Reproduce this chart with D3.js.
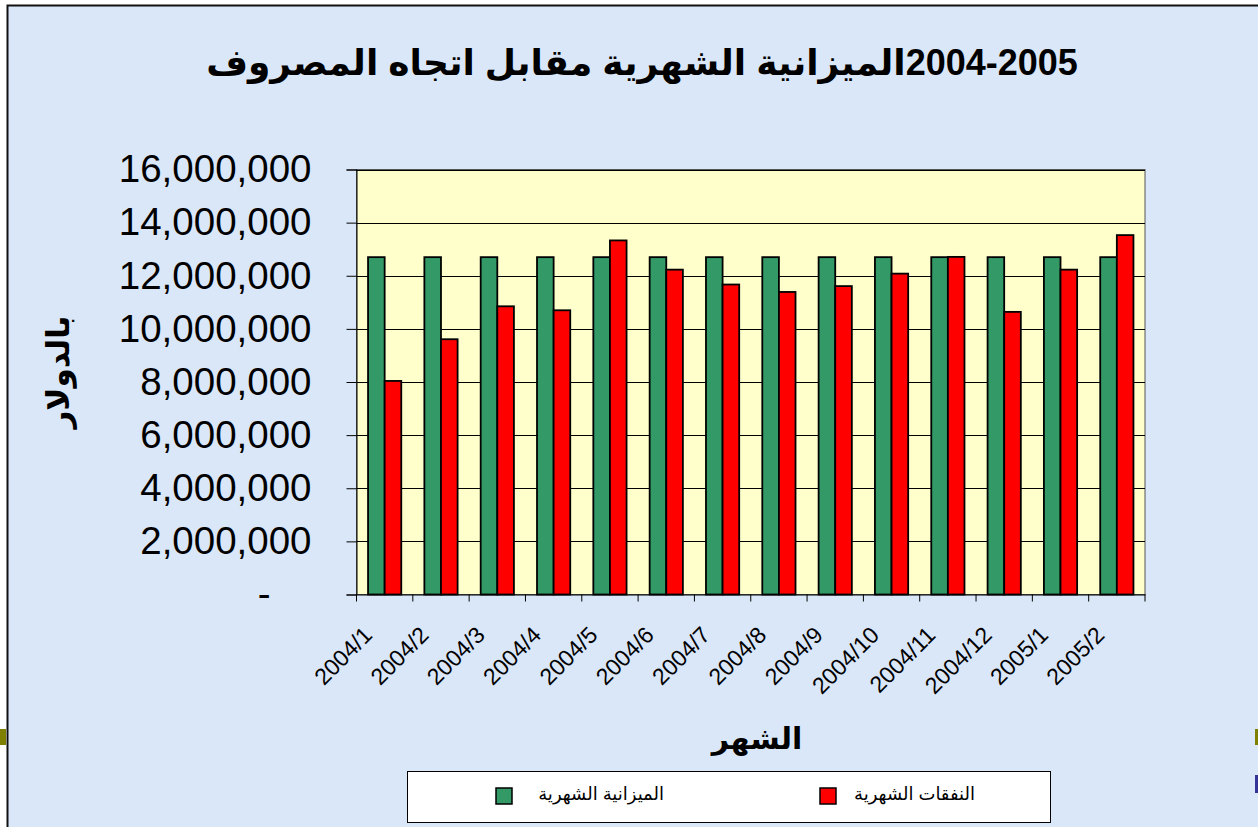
<!DOCTYPE html>
<html>
<head>
<meta charset="utf-8">
<script src="https://cdn.jsdelivr.net/npm/d3@7"></script>
<style>
    body { margin: 0; background: #ffffff; }
    text { font-family: "Liberation Sans", Arial, "DejaVu Sans", sans-serif; }
</style>
</head>
<body>
<div id="chart"></div>
<script>
// Data
var months          =   [ "2004/1", "2004/2", "2004/3", "2004/4", "2004/5", "2004/6", "2004/7",
                          "2004/8", "2004/9", "2004/10", "2004/11", "2004/12", "2005/1", "2005/2" ];
var budget          =   [ 12700000, 12700000, 12700000, 12700000, 12700000, 12700000, 12700000,
                          12700000, 12700000, 12700000, 12700000, 12700000, 12700000, 12700000 ];
var spending        =   [ 8040000, 9610000, 10850000, 10700000, 13330000, 12230000, 11670000,
                          11390000, 11610000, 12080000, 12710000, 10640000, 12230000, 13530000 ];
var y_ticks         =   [ 0, 2000000, 4000000, 6000000, 8000000, 10000000, 12000000, 14000000, 16000000 ];
var series_names    =   [ "الميزانية الشهرية", "النفقات الشهرية" ];
var series_colors   =   [ "#339966", "#ff0000" ];
var title_years     =   "2004-2005";
var title_text      =   "الميزانية الشهرية مقابل اتجاه المصروف";
var x_title         =   "الشهر";
var y_title         =   "بالدولار";

var chart_width     =   1258;
var chart_height    =   831;
var plot            =   { left: 356.5, right: 1145, top: 169.5, bottom: 594.5 };

// Scales
var x               =   d3.scaleBand()
        .domain( months )
        .range( [ plot.left, plot.right ] );

var x1              =   d3.scaleBand()
        .domain( [ 0, 1 ] )
        .range( [ x.bandwidth() * 0.205, x.bandwidth() * 0.795 ] );

var y               =   d3.scaleLinear()
        .domain( [ 0, 16000000 ] )
        .range( [ plot.bottom, plot.top ] );

// Create SVG
var svg             =   d3.select( "#chart" )
        .append( "svg" )
        .attr( "width", chart_width )
        .attr( "height", chart_height );

// Slide background
svg.append( "rect" )
    .attr( "x", 7 ).attr( "y", 5 )
    .attr( "width", chart_width - 7 ).attr( "height", 822 )
    .attr( "fill", "#dae7f8" );

svg.append( "path" )
    .attr( "d", "M7.5,827V5.5H" + chart_width )
    .attr( "fill", "none" )
    .attr( "stroke", "#111" )
    .attr( "stroke-width", 2 );

svg.append( "rect" ).attr( "x", 0 ).attr( "y", 729 ).attr( "width", 6 ).attr( "height", 16 ).attr( "fill", "#808000" );
svg.append( "rect" ).attr( "x", 1255 ).attr( "y", 729 ).attr( "width", 3 ).attr( "height", 16 ).attr( "fill", "#808000" );
svg.append( "rect" ).attr( "x", 1255 ).attr( "y", 775 ).attr( "width", 3 ).attr( "height", 18 ).attr( "fill", "#333399" );

// Plot area
svg.append( "rect" )
    .attr( "x", plot.left ).attr( "y", plot.top )
    .attr( "width", plot.right - plot.left ).attr( "height", plot.bottom - plot.top )
    .attr( "fill", "#ffffcc" )
    .attr( "stroke", "#555" )
    .attr( "stroke-width", 1 );

// Gridlines
svg.append( "g" )
    .selectAll( "line" )
    .data( y_ticks.slice( 1 ) )
    .enter()
    .append( "line" )
    .attr( "x1", plot.left ).attr( "x2", plot.right )
    .attr( "y1", d => Math.round( y(d) ) + 0.5 ).attr( "y2", d => Math.round( y(d) ) + 0.5 )
    .attr( "stroke", "#000" )
    .attr( "stroke-width", 1 );

// Bars
var groups          =   svg.selectAll( "g.month" )
        .data( months )
        .enter()
        .append( "g" )
        .attr( "class", "month" )
        .attr( "transform", d => "translate(" + x(d) + ",0)" );

groups.selectAll( "rect" )
    .data( (d, i) => [ budget[i], spending[i] ] )
    .enter()
    .append( "rect" )
    .attr( "x", (d, j) => x1(j) )
    .attr( "y", d => y(d) )
    .attr( "width", x1.bandwidth() )
    .attr( "height", d => plot.bottom - y(d) )
    .attr( "fill", (d, j) => series_colors[j] )
    .attr( "stroke", "#000" )
    .attr( "stroke-width", 1.8 );

// Y axis
var y_axis          =   d3.axisLeft( y )
        .tickValues( y_ticks )
        .tickSize( 10 )
        .tickPadding( 35 )
        .tickFormat( d => d === 0 ? "-" : d3.format( "," )(d) );

var y_g             =   svg.append( "g" )
        .attr( "transform", "translate(" + plot.left + ",0)" )
        .call( y_axis );

y_g.selectAll( "text" )
    .attr( "font-size", 38.5 )
    .attr( "fill", "#000" )
    .attr( "font-family", "Liberation Sans, Arial, sans-serif" );

y_g.selectAll( "text" )
    .filter( d => d === 0 )
    .attr( "dx", -41 );

// X axis
var x_axis          =   d3.axisBottom( x )
        .tickSize( 0 )
        .tickFormat( "" );

var x_g             =   svg.append( "g" )
        .attr( "transform", "translate(0," + plot.bottom + ")" )
        .call( x_axis );

x_g.selectAll( ".domain" ).attr( "stroke", "#000" );

x_g.selectAll( "line.bound" )
    .data( months.concat( [ null ] ) )
    .enter()
    .append( "line" )
    .attr( "class", "bound" )
    .attr( "x1", (d, i) => plot.left + i * x.step() )
    .attr( "x2", (d, i) => plot.left + i * x.step() )
    .attr( "y1", 0 ).attr( "y2", 7 )
    .attr( "stroke", "#000" );

x_g.selectAll( "text.lab" )
    .data( months )
    .enter()
    .append( "text" )
    .attr( "class", "lab" )
    .attr( "transform", d => "translate(" + ( x(d) + x.bandwidth() / 2 - 11 ) + ",42) rotate(-45)" )
    .attr( "text-anchor", "end" )
    .attr( "font-size", 23 )
    .attr( "fill", "#000" )
    .text( d => d );

// Titles
svg.append( "text" )
    .attr( "x", 642 ).attr( "y", 75 )
    .attr( "text-anchor", "middle" )
    .attr( "direction", "rtl" )
    .attr( "font-size", 36 )
    .attr( "font-weight", "bold" )
    .text( title_years + title_text );

svg.append( "text" )
    .attr( "x", 757 ).attr( "y", 749 )
    .attr( "text-anchor", "middle" )
    .attr( "font-size", 30 )
    .attr( "font-weight", "bold" )
    .text( x_title );

svg.append( "text" )
    .attr( "transform", "translate(69,372) rotate(-90)" )
    .attr( "text-anchor", "middle" )
    .attr( "font-size", 31 )
    .attr( "font-weight", "bold" )
    .text( y_title );

// Legend
var legend          =   svg.append( "g" );

legend.append( "rect" )
    .attr( "x", 407.5 ).attr( "y", 771.5 )
    .attr( "width", 643 ).attr( "height", 51 )
    .attr( "fill", "#fff" )
    .attr( "stroke", "#000" );

var legend_items    =   legend.selectAll( "g.item" )
        .data( series_names )
        .enter()
        .append( "g" )
        .attr( "class", "item" )
        .attr( "transform", (d, i) => "translate(" + ( 496 + i * 324 ) + ",788)" );

legend_items.append( "rect" )
    .attr( "width", 16 ).attr( "height", 16 )
    .attr( "fill", (d, i) => series_colors[i] )
    .attr( "stroke", "#000" )
    .attr( "stroke-width", 1.5 );

legend_items.append( "text" )
    .attr( "x", (d, i) => i === 0 ? 168 : 155 )
    .attr( "y", 12 )
    .attr( "text-anchor", "end" )
    .attr( "font-size", 18 )
    .text( d => d );
</script>
</body>
</html>
